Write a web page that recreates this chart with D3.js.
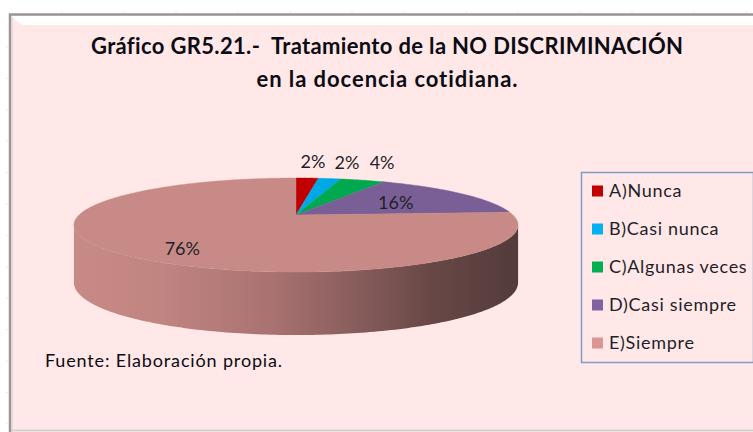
<!DOCTYPE html>
<html><head><meta charset="utf-8">
<script src="https://cdn.jsdelivr.net/npm/d3@7/dist/d3.min.js"></script>
<style>html,body{margin:0;padding:0;background:#fff}svg{display:block}text{font-variant-ligatures:none}</style></head>
<body><svg id="c" width="753" height="432"></svg>
<script>
const categories = ["A)Nunca","B)Casi nunca","C)Algunas veces","D)Casi siempre","E)Siempre"];
const values = [2,2,4,16,76];
const labels = ["2%","2%","4%","16%","76%"];
const colors = ["#c00000","#00a8e8","#00a84f","#7a5e96","#c88a86"];
const legendColors = ["#c00000","#00b0f0","#00b050","#8064a2","#d99694"];
const titleLines = ["Gráfico GR5.21.-  Tratamiento de la NO DISCRIMINACIÓN","en la docencia cotidiana."];
const source = "Fuente: Elaboración propia.";
const F = "Lato, sans-serif";

const svg = d3.select("#c");
const defs = svg.append("defs");
const grad = defs.append("linearGradient").attr("id","wall").attr("gradientUnits","userSpaceOnUse")
  .attr("x1",74).attr("x2",518).attr("y1",0).attr("y2",0);
[[0,"#c88a86"],[0.2,"#c08481"],[0.45,"#a87270"],[0.62,"#8a5f5e"],[0.8,"#684846"],[1,"#533b3b"]]
  .forEach(s=>grad.append("stop").attr("offset",s[0]).attr("stop-color",s[1]));

// panel
svg.append("rect").attr("x",9).attr("y",15).attr("width",744).attr("height",415).attr("fill","#ffe8e7");
svg.append("path").attr("d","M11 16H753V25H22Z").attr("fill","#ffffff");
svg.append("path").attr("d","M10 432V14.5H753").attr("fill","none").attr("stroke","#9b9696").attr("stroke-width",2.5);
svg.append("path").attr("d","M12 432V17").attr("fill","none").attr("stroke","#e0d6d6").attr("stroke-width",1.5);
svg.append("path").attr("d","M11 430.5H753").attr("fill","none").attr("stroke","#d8cece").attr("stroke-width",2);

// faint ruler ticks around the panel
const tickStroke = "#dfe4e4";
const topTicks = d3.range(62,753,114).concat(d3.range(124,753,114));
svg.append("g").selectAll("line").data(topTicks).join("line")
  .attr("x1",d=>d).attr("x2",d=>d).attr("y1",11.5).attr("y2",13).attr("stroke",tickStroke);
const leftTicks = d3.range(47,432,31.4);
svg.append("g").selectAll("line").data(leftTicks).join("line")
  .attr("x1",6.5).attr("x2",8).attr("y1",d=>d).attr("y2",d=>d).attr("stroke",tickStroke);

// projection of the pie disc: scales map disc coordinates to the screen
const cx=296, cy=215, R=217, H=44.9, K=0.213;
const sx = d3.scaleLinear().domain([-1,1]).range([cx-R,cx+R]);
const sy = d3.scaleLinear().domain([-1,1]).range([cy+H,cy-H]);
const proj = (a,r=1,d=0)=>{
  const u=r*Math.sin(a), v=r*Math.cos(a), w=1+K*v;
  return [sx(u/w), sy(v/w) + d*(56-7*v)];
};
const line = d3.line();
const pie = d3.pie().sort(null).startAngle(0).endAngle(2*Math.PI)(values);
const arcPts=(a0,a1,d=0)=>{const n=Math.max(4,Math.ceil((a1-a0)*60));
  return d3.range(n+1).map(i=>proj(a0+(a1-a0)*i/n,1,d));};

// wall: front half of the rim
const start = Math.acos(-K), end = 2*Math.PI-start;
const rimTop = arcPts(start,end,0), rimBot = arcPts(start,end,1).reverse();
svg.append("path").attr("d",line(rimTop.concat(rimBot))+"Z").attr("fill","url(#wall)");

// top face
svg.append("g").selectAll("path").data(pie).join("path")
  .attr("d",d=>line([proj(0,0)].concat(arcPts(d.startAngle,d.endAngle)))+"Z")
  .attr("fill",(d,i)=>colors[i]).attr("stroke",(d,i)=>colors[i]).attr("stroke-width",0.4);

// title
const titleLen = [592,261];
svg.append("g").selectAll("text").data(titleLines).join("text")
  .attr("x",387).attr("y",(d,i)=>54+i*33).attr("text-anchor","middle")
  .attr("textLength",(d,i)=>titleLen[i]).attr("lengthAdjust","spacing")
  .attr("font-family",F).attr("font-weight",700).attr("font-size",22).attr("fill","#0c0c14")
  .style("white-space","pre").text(d=>d);

// data labels, placed along each slice's mid angle
const labelR = [1.3,1.7,1.37,0.58,0.7];
const labelDx = [3,0,0,0,3];
const labelDy = [-1.4,9.3,-1,7,14];
svg.append("g").selectAll("text").data(pie).join("text")
  .attr("x",(d,i)=>proj((d.startAngle+d.endAngle)/2,labelR[i])[0]+labelDx[i])
  .attr("y",(d,i)=>proj((d.startAngle+d.endAngle)/2,labelR[i])[1]+labelDy[i])
  .attr("text-anchor","middle")
  .attr("font-family",F).attr("font-size",18).attr("fill","#1f1f2a").text((d,i)=>labels[i]);

// legend
const ly0 = d3.scalePoint().domain(categories).range([191,343]);
svg.append("rect").attr("x",581.5).attr("y",172.5).attr("width",172).attr("height",190)
  .attr("fill","none").attr("stroke","#7f9dc6").attr("stroke-width",1.5);
const lg = svg.append("g").selectAll("g").data(categories).join("g");
lg.append("rect").attr("x",592).attr("y",d=>ly0(d)-5.5).attr("width",11).attr("height",11)
  .attr("fill",(d,i)=>legendColors[i]);
lg.append("text").attr("x",609).attr("y",d=>ly0(d)+6)
  .attr("font-family",F).attr("font-size",18).attr("letter-spacing",0.7).attr("fill","#1f1f2a").text(d=>d);

// source
svg.append("text").attr("x",45).attr("y",367).attr("font-family",F).attr("font-size",18).attr("letter-spacing",0.85).attr("fill","#0c0c14").text(source);
</script></body></html>
